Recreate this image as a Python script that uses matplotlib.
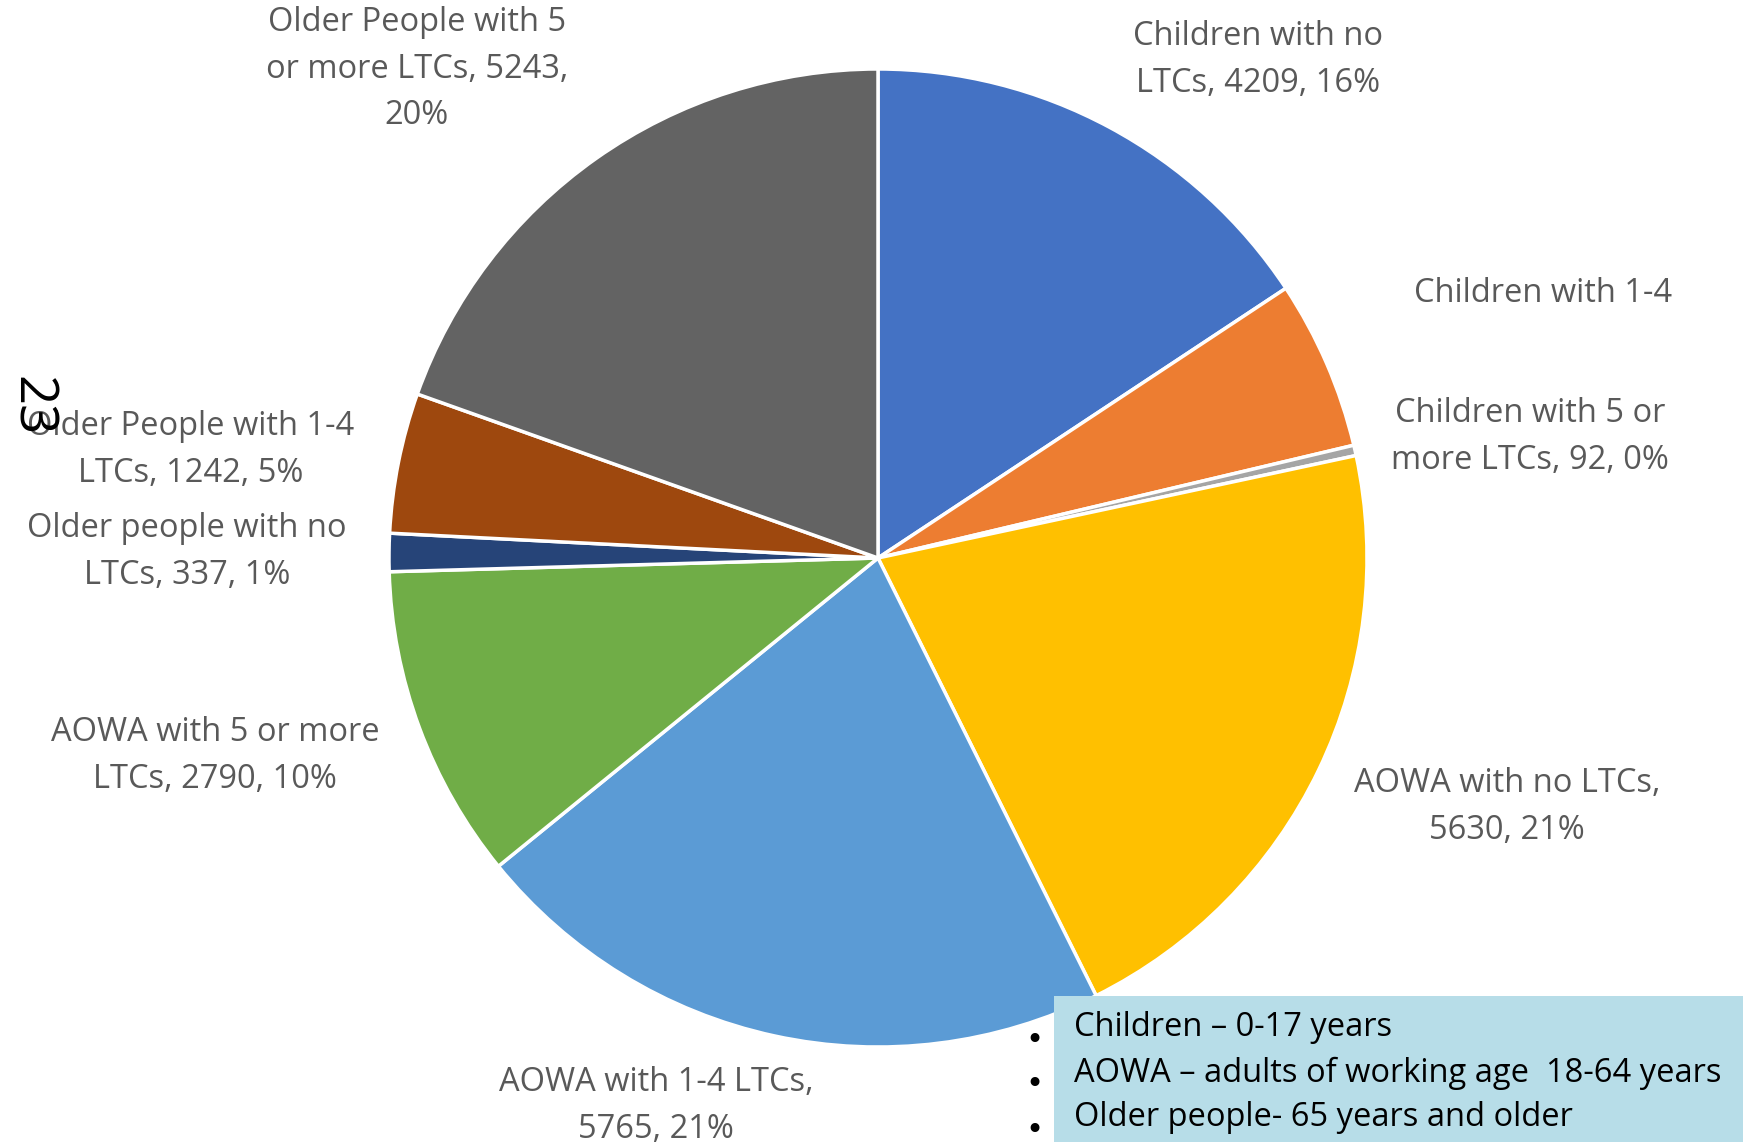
import matplotlib.pyplot as plt
from matplotlib.patches import Rectangle

# Datos del gráfico
categorias = [
    "Children with no LTCs", "Children with 1-4 LTCs", "Children with 5 or more LTCs",
    "AOWA with no LTCs", "AOWA with 1-4 LTCs", "AOWA with 5 or more LTCs",
    "Older people with no LTCs", "Older People with 1-4 LTCs", "Older People with 5 or more LTCs",
]
valores = [4209, 1500, 92, 5630, 5765, 2790, 337, 1242, 5243]
etiquetas = [
    "Children with no\nLTCs, 4209, 16%",
    "Children with 1-4",
    "Children with 5 or\nmore LTCs, 92, 0%",
    "AOWA with no LTCs,\n5630, 21%",
    "AOWA with 1-4 LTCs,\n5765, 21%",
    "AOWA with 5 or more\nLTCs, 2790, 10%",
    "Older people with no\nLTCs, 337, 1%",
    "Older People with 1-4\nLTCs, 1242, 5%",
    "Older People with 5\nor more LTCs, 5243,\n20%",
]
colores = ["#4472C4", "#ED7D31", "#A5A5A5", "#FFC000", "#5B9BD5",
           "#70AD47", "#264478", "#9E480E", "#636363"]
notas = ["Children \u2013 0-17 years",
         "AOWA \u2013 adults of working age  18-64 years",
         "Older people- 65 years and older"]

W, H = 1743, 1142
fig = plt.figure(figsize=(W / 100, H / 100), dpi=100)
ax = fig.add_axes([0, 0, 1, 1])

# Pastel
cx, cy, r = 878, H - 558, 489
ax.pie(valores, colors=colores, startangle=90, counterclock=False,
       center=(cx, cy), radius=r, frame=True,
       wedgeprops=dict(edgecolor="white", linewidth=2.5))
ax.set_xlim(0, W)
ax.set_ylim(0, H)
ax.axis("off")

# Posiciones de las etiquetas (px desde arriba)
pos = [(1258, 60), (1543, 293), (1530, 437), (1507, 807), (656, 1106),
       (215, 756), (187, 552), (191, 450), (417, 69)]
for txt, (x, y) in zip(etiquetas, pos):
    ax.text(x, H - y, txt, ha="center", va="center", fontsize=23.5,
            color="#595959", family="Open Sans", linespacing=1.55)

# Recuadro de notas
ax.add_patch(Rectangle((1054, 0), W - 1054, H - 996, facecolor="#B7DDE8",
                       edgecolor="none", zorder=5))
for i, n in enumerate(notas):
    y = 1028 + i * 45
    ax.text(1074, H - y, n, ha="left", va="center", fontsize=23.5,
            color="black", family="Open Sans", zorder=6)
    ax.text(1034, H - y - 12, "\u2022", ha="center", va="center", fontsize=22,
            color="black", zorder=6)

# Número de página girado
ax.text(31, H - 406, "23", rotation=-90, ha="center", va="center",
        fontsize=38, color="black", family="Open Sans")

fig.savefig("out.png", dpi=100)
